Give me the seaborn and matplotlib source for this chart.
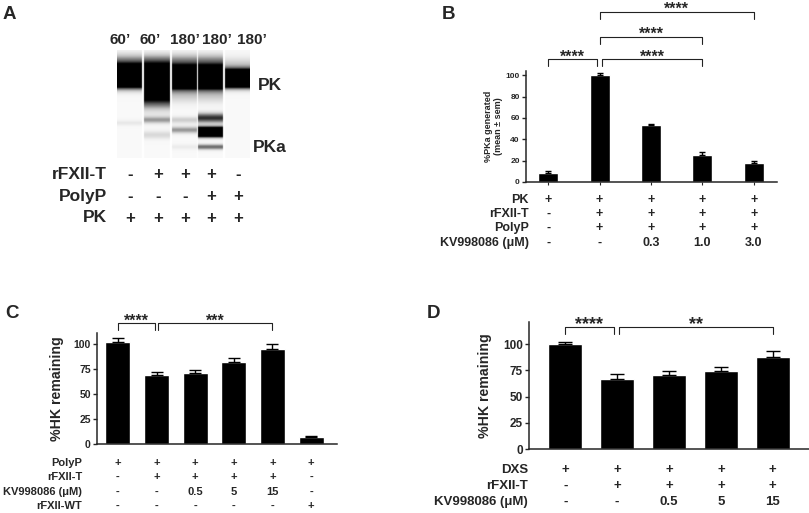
import matplotlib
matplotlib.use("Agg")
import matplotlib.pyplot as plt
import matplotlib.transforms as mtransforms
import numpy as np
import pandas as pd
import seaborn as sns

sns.set_style("ticks")
plt.rcParams["font.family"] = ["Liberation Sans", "DejaVu Sans"]
plt.rcParams["font.weight"] = "bold"
plt.rcParams["axes.labelweight"] = "bold"
plt.rcParams["axes.linewidth"] = 1.1
plt.rcParams["xtick.major.width"] = 1.0
plt.rcParams["ytick.major.width"] = 1.0

W, H = 809, 513

# ---- panel A: capillary gel, one list of bands per lane (centre, sigma, strength)
gel_times = ["60’", "60’", "180’", "180’", "180’"]
gel_bands = [
    [(12, 6, 0.5), (26.5, 6.3, 4.0), (73, 2.0, 0.12)],
    [(12, 6, 0.5), (32, 9.0, 4.0), (52, 5.0, 0.40), (60, 8.0, 0.10), (70, 2.5, 0.40), (85, 3.0, 0.20)],
    [(12, 6, 0.5), (27.5, 6.3, 4.0), (45, 6.0, 0.25), (70, 2.5, 0.25), (80, 2.5, 0.45), (97, 2.0, 0.10)],
    [(12, 6, 0.5), (27.5, 6.3, 4.0), (45, 6.0, 0.25), (68, 3.5, 0.80), (82, 3.0, 3.00), (97, 2.0, 0.60)],
    [(15, 6, 0.25), (28.5, 5.1, 4.0)],
]
gel_rows = ["rFXII-T", "PolyP", "PK"]
gel_signs = [
    ["-", "+", "+", "+", "-"],
    ["-", "-", "-", "+", "+"],
    ["+", "+", "+", "+", "+"],
]

# ---- panel B: %PKa generated
b_vals = [8, 100, 53, 25.5, 18]
b_err = [2, 2, 1.8, 3, 1.5]
b_rows = ["PK", "rFXII-T", "PolyP", "KV998086 (μM)"]
b_signs = [
    ["+", "+", "+", "+", "+"],
    ["-", "+", "+", "+", "+"],
    ["-", "+", "+", "+", "+"],
    ["-", "-", "0.3", "1.0", "3.0"],
]

# ---- panel C: %HK remaining (PolyP)
c_vals = [102.5, 69, 71, 82.5, 95.5, 7]
c_err = [3.5, 3.5, 3, 4, 5, 1]
c_rows = ["PolyP", "rFXII-T", "KV998086 (μM)", "rFXII-WT"]
c_signs = [
    ["+", "+", "+", "+", "+", "+"],
    ["-", "+", "+", "+", "+", "-"],
    ["-", "-", "0.5", "5", "15", "-"],
    ["-", "-", "-", "-", "-", "+"],
]

# ---- panel D: %HK remaining (DXS)
d_vals = [100, 67, 70.5, 74, 87.5]
d_err = [2, 4, 3.5, 4.5, 6]
d_rows = ["DXS", "rFXII-T", "KV998086 (μM)"]
d_signs = [
    ["+", "+", "+", "+", "+"],
    ["-", "+", "+", "+", "+"],
    ["-", "-", "0.5", "5", "15"],
]

fig = plt.figure(figsize=(W / 100, H / 100), dpi=100)


def px_axes(x0, y0, x1, y1):
    return fig.add_axes([x0 / W, 1 - y1 / H, (x1 - x0) / W, (y1 - y0) / H])


def fy(py):
    return 1 - py / H


def bar_panel(ax, vals, err, width, ylim, xlim, ticks, capsize, tick_fs):
    df = pd.DataFrame({"cond": [f"c{i}" for i in range(len(vals))], "val": vals})
    sns.barplot(data=df, x="cond", y="val", color="black", saturation=1,
                width=width, errorbar=None, ax=ax)
    n = len(vals)
    ax.errorbar(range(n), vals, yerr=[np.zeros(n), err], fmt="none",
                ecolor="black", elinewidth=1.0, capsize=capsize, capthick=1.0)
    ax.set_ylim(*ylim)
    ax.set_xlim(*xlim)
    ax.set_yticks(ticks)
    ax.tick_params(axis="y", labelsize=tick_fs, length=3, pad=1.5)
    for lbl in ax.get_yticklabels():
        lbl.set_fontweight("bold")
    ax.set_xlabel("")
    ax.set_xticklabels([])
    sns.despine(ax=ax)


def bracket(ax, x0, x1, y, h, label, ty, fs):
    # ty is the baseline of the stars
    ax.plot([x0, x0, x1, x1], [y - h, y, y, y - h], color="#222222", lw=0.8,
            clip_on=False)
    ax.text((x0 + x1) / 2, ty, label, ha="center", va="baseline", fontsize=fs,
            clip_on=False)


def sign_table(ax, rows, signs, label_x, ys, fs):
    trans = mtransforms.blended_transform_factory(ax.transData, fig.transFigure)
    for name, row, py in zip(rows, signs, ys):
        fig.text(label_x / W, fy(py), name, ha="right", va="center", fontsize=fs)
        for i, s in enumerate(row):
            ax.text(i, fy(py), s, transform=trans, ha="center", va="center",
                    fontsize=fs)


# ---------------- panel A
axA = px_axes(117, 50, 250, 158)
lane_edges = [(0, 25), (27, 53), (55, 80), (81, 106), (108, 133)]
ny, nx = 432, 266
yy = np.linspace(0, 108, ny)
img = np.zeros((ny, nx))
xs = np.linspace(0, 133, nx)
for (l0, l1), bands in zip(lane_edges, gel_bands):
    prof = np.full(ny, 0.05)
    for c, s, a in bands:
        prof += a * np.exp(-((yy - c) ** 2) / (2 * s ** 2))
    prof = np.clip(prof, 0, 1)
    cols = (xs >= l0) & (xs <= l1)
    img[:, cols] = prof[:, None]
axA.imshow(img, cmap="Greys", vmin=0, vmax=1, aspect="auto",
           extent=(0, 133, 108, 0), interpolation="bilinear")
axA.axis("off")
lane_c = [(a + b) / 2 for a, b in lane_edges]
label_off = [-9, -7, 0, 6, 14]
for i, t in enumerate(gel_times):
    axA.text(lane_c[i] + label_off[i], -10, t, ha="center", va="center",
             fontsize=11, clip_on=False)
axA.text(141, 35, "PK", ha="left", va="center", fontsize=12.5, clip_on=False)
axA.text(136, 98, "PKa", ha="left", va="center", fontsize=12.5, clip_on=False)
transA = mtransforms.blended_transform_factory(axA.transData, fig.transFigure)
for name, row, py in zip(gel_rows, gel_signs, [175, 197, 218]):
    fig.text(107 / W, fy(py), name, ha="right", va="center", fontsize=12.5)
    for i, s in enumerate(row):
        axA.text(lane_c[i] + 1, fy(py), s, transform=transA, ha="center",
                 va="center", fontsize=12)

# ---------------- panel B
axB = px_axes(526, 71, 777, 182)
bar_panel(axB, b_vals, b_err, 0.39, (0, 104), (-0.43, 4.45),
          [0, 20, 40, 60, 80, 100], 2.5, 6)
axB.set_xticks(range(len(b_vals)))
axB.tick_params(axis="x", length=2.5, width=0.8)
axB.set_ylabel("%PKa generated\n(mean ± sem)", fontsize=6.5, labelpad=2,
               linespacing=1.1)
bracket(axB, 0, 0.95, 115, 6, "****", 113, 11.5)
bracket(axB, 1.04, 3.0, 115, 6, "****", 113, 11.5)
bracket(axB, 1.0, 3.0, 135.5, 6, "****", 134, 11.5)
bracket(axB, 1.0, 4.0, 159, 6, "****", 157.5, 11.5)
sign_table(axB, b_rows, b_signs, 529, [200, 214, 228, 243], 9)

# ---------------- panel C
axC = px_axes(97, 333, 337, 444)
bar_panel(axC, c_vals, c_err, 0.65, (0, 111), (-0.54, 5.67),
          [0, 25, 50, 75, 100], 4.3, 7.5)
axC.tick_params(axis="x", length=0)
axC.set_ylabel("%HK remaining", fontsize=10.2, labelpad=7)
bracket(axC, 0, 0.96, 121, 7, "****", 118, 11.5)
bracket(axC, 1.04, 4.0, 121, 7, "***", 118, 11.5)
sign_table(axC, c_rows, c_signs, 82, [463, 477, 492, 506], 8)

# ---------------- panel D
axD = px_axes(529, 322, 809, 449)
bar_panel(axD, d_vals, d_err, 0.66, (0, 121), (-0.7, 4.7),
          [0, 25, 50, 75, 100], 5, 8.5)
axD.tick_params(axis="x", length=0)
axD.set_ylabel("%HK remaining", fontsize=10.2, labelpad=8)
bracket(axD, 0, 0.93, 116, 6.5, "****", 114.5, 13)
bracket(axD, 1.03, 4.0, 116, 6.5, "**", 114.5, 13)
sign_table(axD, d_rows, d_signs, 528, [470, 486, 502], 9.5)

# panel letters
for lab, x, y in [("A", 3, 15), ("B", 442, 15), ("C", 5, 313), ("D", 427, 313)]:
    fig.text(x / W, fy(y), lab, ha="left", va="center", fontsize=13.5)

fig.savefig("out.png", dpi=100)
